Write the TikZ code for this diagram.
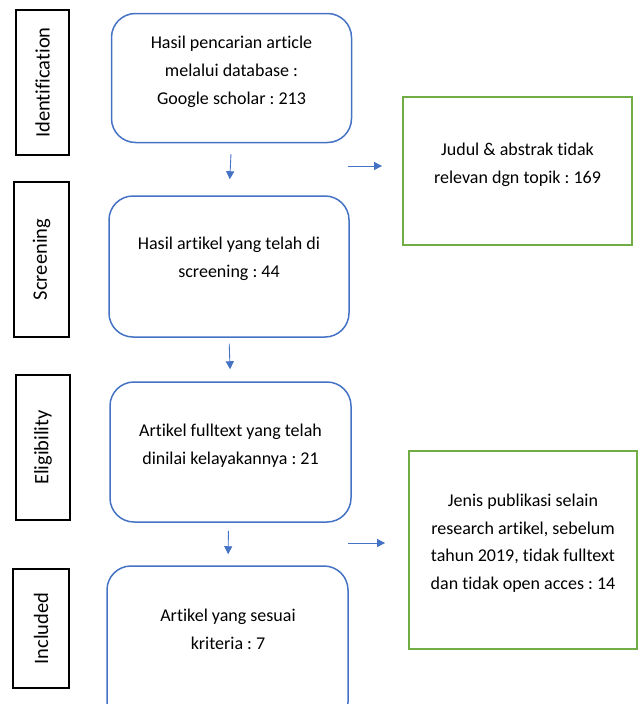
\documentclass[tikz,border=0pt]{standalone}
\usepackage{fontspec}
\setmainfont{Carlito}[Ligatures={NoCommon}]
\frenchspacing
\usetikzlibrary{arrows.meta,calc}
\definecolor{boxblue}{HTML}{4472C4}
\definecolor{boxgreen}{HTML}{70AD47}
\tikzset{
  x=1pt,y=-1pt,
  stage/.style={draw=black,line width=1.8pt,rotate=90,inner sep=0pt,font=\fontsize{20.5}{24}\selectfont},
  flowbox/.style={draw=boxblue,line width=1.5pt,rounded corners=24pt,inner sep=0pt},
  sidebox/.style={draw=boxgreen,line width=1.8pt,inner sep=0pt},
  txt/.style={align=center,font=\fontsize{18}{28}\selectfont,inner sep=0pt},
  gtxt/.style={align=center,font=\fontsize{18}{27.5}\selectfont,inner sep=0pt},
  arr/.style={draw=boxblue,line width=0.9pt,-{Triangle[length=8pt,width=8pt]}}
}
\begin{document}
\begin{tikzpicture}
\useasboundingbox (0,0) rectangle (640,704);
\clip (0,0) rectangle (640,704);
% stage labels
\node[stage,minimum width=145pt,minimum height=53pt] (s1) at (42.5,82.5) {Identification};
\node[stage,minimum width=155pt,minimum height=55pt] (s2) at (41.5,259.5) {Screening};
\node[stage,minimum width=145pt,minimum height=54pt] (s3) at (43,447.5) {Eligibility};
\node[stage,minimum width=119pt,minimum height=56pt] (s4) at (41,628.5) {Included};
% flow boxes
\node[flowbox,minimum width=240pt,minimum height=129pt] (b1) at (231.5,78) {};
\node[flowbox,minimum width=240pt,minimum height=141pt] (b2) at (229,266.5) {};
\node[flowbox,minimum width=241pt,minimum height=140pt] (b3) at (230.5,452) {};
\node[flowbox,minimum width=241pt,minimum height=160pt] (b4) at (227.5,646) {};
\node[txt] (t1) at ($(b1.center)+(0,-6)$) {Hasil pencarian article\\melalui database :\\Google scholar : 213};
\node[txt] (t2) at ($(b2.center)+(0,-8)$) {Hasil artikel yang telah di\\screening : 44};
\node[txt] (t3) at ($(b3.center)+(0,-6)$) {Artikel fulltext yang telah\\dinilai kelayakannya : 21};
\node[txt] (t4) at (228,629) {Artikel yang sesuai\\kriteria : 7};
% side boxes
\node[sidebox,minimum width=229pt,minimum height=148pt] (g1) at (517.5,171) {};
\node[sidebox,minimum width=228pt,minimum height=198pt] (g2) at (523,550) {};
\node[gtxt] (gt1) at ($(g1.center)+(0,-6)$) {Judul \& abstrak tidak\\relevan dgn topik : 169};
\node[gtxt] (gt2) at ($(g2.center)+(0,-7)$) {Jenis publikasi selain\\research artikel, sebelum\\tahun 2019, tidak fulltext\\dan tidak open acces : 14};
% vertical arrows
\draw[arr,shorten <=11pt,shorten >=16pt] (b1.south) -- (b2.north);
\draw[arr,shorten <=6pt,shorten >=12pt] (b2.south) -- (b3.north);
\draw[arr,shorten <=8pt,shorten >=11pt] ($(b3.south)+(-2,0)$) -- ($(b4.north)+(0.5,0)$);
% horizontal arrows
\coordinate (h1) at (348,166);
\coordinate (h2) at (348,543);
\draw[arr,shorten >=20pt] (h1) -- (h1 -| g1.west);
\draw[arr,shorten >=23pt] (h2) -- (h2 -| g2.west);
\end{tikzpicture}
\end{document}
